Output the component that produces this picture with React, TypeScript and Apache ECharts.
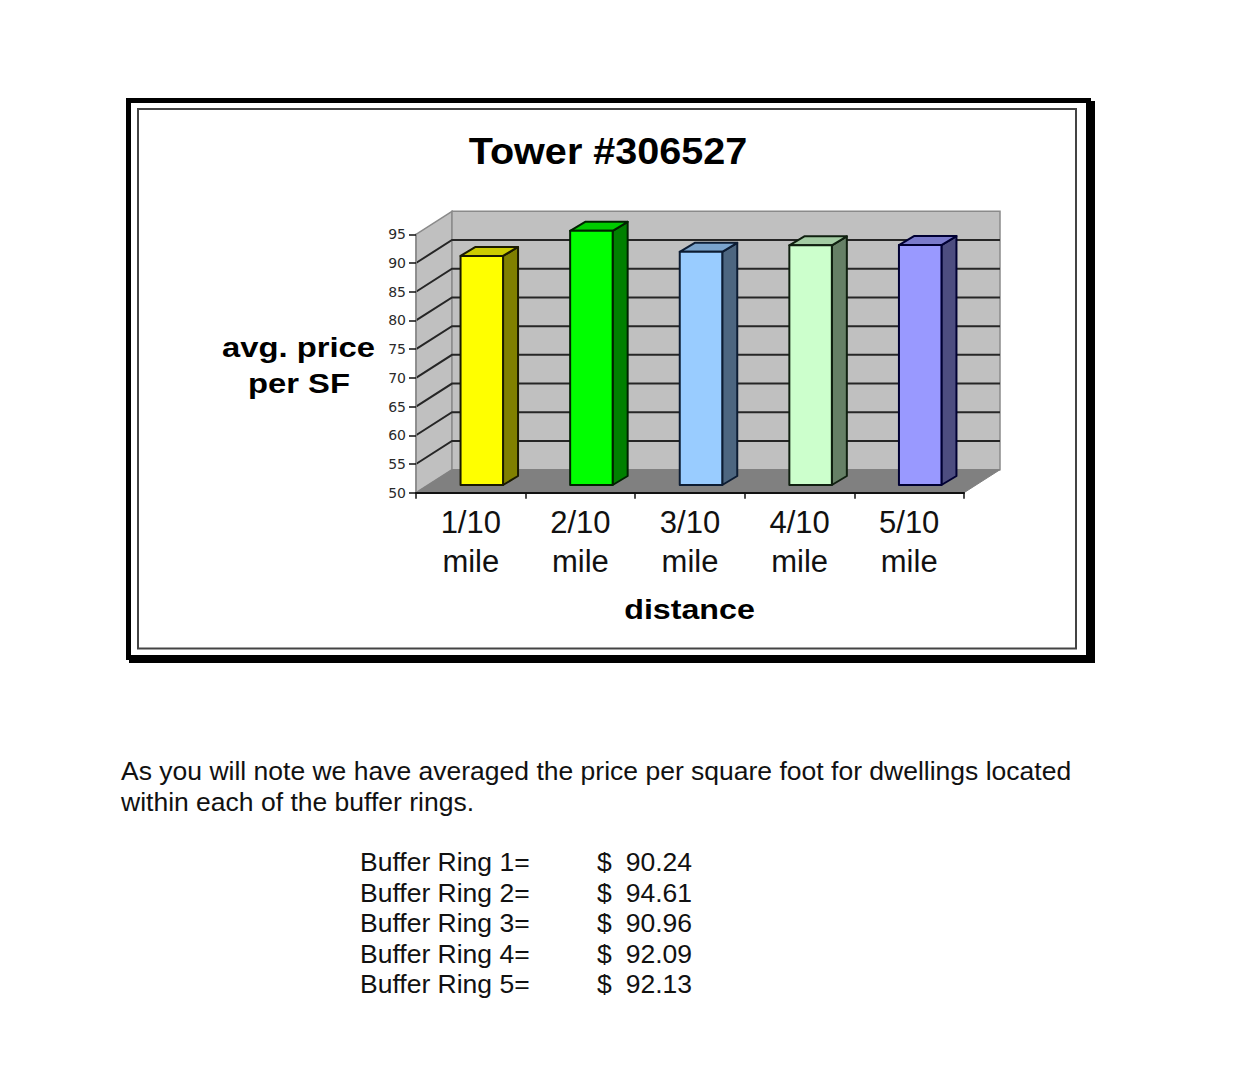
import React, { useEffect, useRef } from "react";
import * as echarts from "echarts";

const categories = ["1/10\nmile", "2/10\nmile", "3/10\nmile", "4/10\nmile", "5/10\nmile"];
const priceValues = [90.24, 94.61, 90.96, 92.09, 92.13];
const gridValues = [55, 60, 65, 70, 75, 80, 85, 90];
const ringLabels = ["Buffer Ring 1=", "Buffer Ring 2=", "Buffer Ring 3=", "Buffer Ring 4=", "Buffer Ring 5="];
const ringPrices = ["90.24", "94.61", "90.96", "92.09", "92.13"];
const ringRowY = [862, 893, 923, 954, 984];
const frontColors = ["#FFFF00", "#00FF00", "#99CCFF", "#CCFFCC", "#9999FF"];
const topColors = ["#CCCC00", "#00CC00", "#7AA3CC", "#A3CCA3", "#7A7ACC"];
const sideColors = ["#808000", "#008000", "#4D6680", "#668066", "#4D4D80"];
const edgeColors = ["#1a1a00", "#002200", "#0c1c33", "#102010", "#000033"];

const Y_MIN = 50;
const Y_MAX = 95;
const WALL_DX = 36;
const WALL_DY = 23;
const BAR_OFF_X = 12;
const BAR_OFF_Y = 7.7;
const BAR_TOP_OFF_Y = 5.7;
const BAR_W = 42.5;
const BAR_DX = 15;
const BAR_DY = 9;
const GRID_LINE = "#262626";
const WALL_EDGE = "#8a8a8a";

const sans = '"Liberation Sans", Arial, sans-serif';

function label(text: string, x: number, y: number, size: number, bold: boolean, scaleX = 1, align = "center", fill = "#000") {
  return {
    type: "text",
    x,
    y,
    scaleX,
    silent: true,
    style: {
      text,
      fill,
      font: `${bold ? "bold " : ""}${size}px ${sans}`,
      align,
      verticalAlign: "middle",
    },
  };
}

function renderWalls(_params: any, api: any) {
  const band = api.size([1, 0])[0];
  const xL = api.coord([0, Y_MIN])[0] - band / 2;
  const xR = api.coord([categories.length - 1, Y_MIN])[0] + band / 2;
  const y0 = api.coord([0, Y_MIN])[1];
  const yT = api.coord([0, Y_MAX])[1];
  const children: any[] = [
    {
      type: "polygon",
      shape: { points: [[xL, y0], [xL + WALL_DX, y0 - WALL_DY], [xL + WALL_DX, yT - WALL_DY], [xL, yT]] },
      style: { fill: "#C0C0C0", stroke: WALL_EDGE, lineWidth: 1.5 },
    },
    {
      type: "polygon",
      shape: { points: [[xL + WALL_DX, y0 - WALL_DY], [xR + WALL_DX, y0 - WALL_DY], [xR + WALL_DX, yT - WALL_DY], [xL + WALL_DX, yT - WALL_DY]] },
      style: { fill: "#C0C0C0", stroke: WALL_EDGE, lineWidth: 1.5 },
    },
    {
      type: "polygon",
      shape: { points: [[xL, y0], [xR, y0], [xR + WALL_DX, y0 - WALL_DY], [xL + WALL_DX, y0 - WALL_DY]] },
      style: { fill: "#808080", stroke: "#808080", lineWidth: 1 },
    },
  ];
  gridValues.forEach((v) => {
    const y = api.coord([0, v])[1];
    children.push({
      type: "polyline",
      shape: { points: [[xL, y], [xL + WALL_DX, y - WALL_DY], [xR + WALL_DX, y - WALL_DY]] },
      style: { fill: "none", stroke: GRID_LINE, lineWidth: 2 },
    });
  });
  return { type: "group", children };
}

function renderBar(params: any, api: any) {
  const i = api.value(0);
  const [cx, yTop0] = api.coord([i, api.value(1)]);
  const yBase0 = api.coord([i, Y_MIN])[1];
  const l = cx + BAR_OFF_X - BAR_W / 2 - 1;
  const r = l + BAR_W;
  const t = yTop0 - BAR_TOP_OFF_Y;
  const b = yBase0 - BAR_OFF_Y;
  const idx = params.dataIndex;
  const stroke = edgeColors[idx];
  const lw = 2;
  return {
    type: "group",
    children: [
      {
        type: "polygon",
        shape: { points: [[r, t], [r + BAR_DX, t - BAR_DY], [r + BAR_DX, b - BAR_DY], [r, b]] },
        style: { fill: sideColors[idx], stroke, lineWidth: lw, lineJoin: "round" },
      },
      {
        type: "polygon",
        shape: { points: [[l, t], [l + BAR_DX, t - BAR_DY], [r + BAR_DX, t - BAR_DY], [r, t]] },
        style: { fill: topColors[idx], stroke, lineWidth: lw, lineJoin: "round" },
      },
      {
        type: "polygon",
        shape: { points: [[l, t], [r, t], [r, b], [l, b]] },
        style: { fill: frontColors[idx], stroke, lineWidth: lw, lineJoin: "round" },
      },
    ],
  };
}

export default function App() {
  const ref = useRef<HTMLDivElement>(null);
  useEffect(() => {
    const chart = echarts.init(ref.current!, undefined, { renderer: "svg" });
    chart.setOption({
      animation: false,
      backgroundColor: "#fff",
      grid: { left: 416, top: 234.3, width: 548, height: 258.4 },
      xAxis: {
        type: "category",
        data: categories,
        z: 6,
        axisLine: { lineStyle: { color: "#111", width: 2 } },
        axisTick: { show: true, length: 6, alignWithLabel: false, lineStyle: { color: "#111", width: 1.5 } },
        axisLabel: {
          interval: 0,
          margin: 10,
          color: "#111",
          fontFamily: sans,
          fontSize: 31,
          lineHeight: 39,
        },
      },
      yAxis: {
        type: "value",
        min: Y_MIN,
        max: Y_MAX,
        interval: 5,
        z: 6,
        splitLine: { show: false },
        axisLine: { show: true, lineStyle: { color: WALL_EDGE, width: 1.5 } },
        axisTick: { show: true, length: 7, lineStyle: { color: "#111", width: 1.5 } },
        axisLabel: { margin: 10, color: "#2a2a2a", fontFamily: '"DejaVu Sans"', fontSize: 14 },
      },
      series: [
        {
          type: "custom",
          name: "walls",
          silent: true,
          clip: false,
          z: 1,
          renderItem: renderWalls,
          data: [[0, Y_MIN]],
          encode: { x: 0, y: 1 },
        },
        {
          type: "custom",
          name: "avg. price per SF",
          silent: true,
          clip: false,
          z: 3,
          renderItem: renderBar,
          data: priceValues.map((v, i) => [i, v]),
          encode: { x: 0, y: 1 },
        },
      ],
      graphic: [
        { type: "rect", silent: true, shape: { x: 1088, y: 101, width: 7, height: 562 }, style: { fill: "#000" } },
        { type: "rect", silent: true, shape: { x: 129, y: 656, width: 966, height: 7 }, style: { fill: "#000" } },
        { type: "rect", silent: true, shape: { x: 128.5, y: 100.5, width: 960, height: 557 }, style: { fill: "none", stroke: "#000", lineWidth: 5 } },
        { type: "rect", silent: true, shape: { x: 138, y: 109, width: 938, height: 539.5 }, style: { fill: "none", stroke: "#444", lineWidth: 2 } },
        label("Tower #306527", 608, 151, 37, true, 1.07),
        label("avg. price", 298.5, 347, 28, true, 1.17),
        label("per SF", 299, 383, 28, true, 1.17),
        label("distance", 689.5, 609, 28, true, 1.15),
        label("As you will note we have averaged the price per square foot for dwellings located", 121, 771, 26.5, false, 1, "left", "#111"),
        label("within each of the buffer rings.", 121, 802, 26.5, false, 1, "left", "#111"),
        ...ringLabels.map((t, i) => label(t, 360, ringRowY[i], 26.5, false, 1, "left", "#111")),
        ...ringPrices.map((_, i) => label("$", 597, ringRowY[i], 26.5, false, 1, "left", "#111")),
        ...ringPrices.map((t, i) => label(t, 692, ringRowY[i], 26.5, false, 1, "right", "#111")),
      ],
    });
    return () => chart.dispose();
  }, []);
  return <div ref={ref} style={{ position: "absolute", left: 0, top: 0, width: 1239, height: 1073 }} />;
}
